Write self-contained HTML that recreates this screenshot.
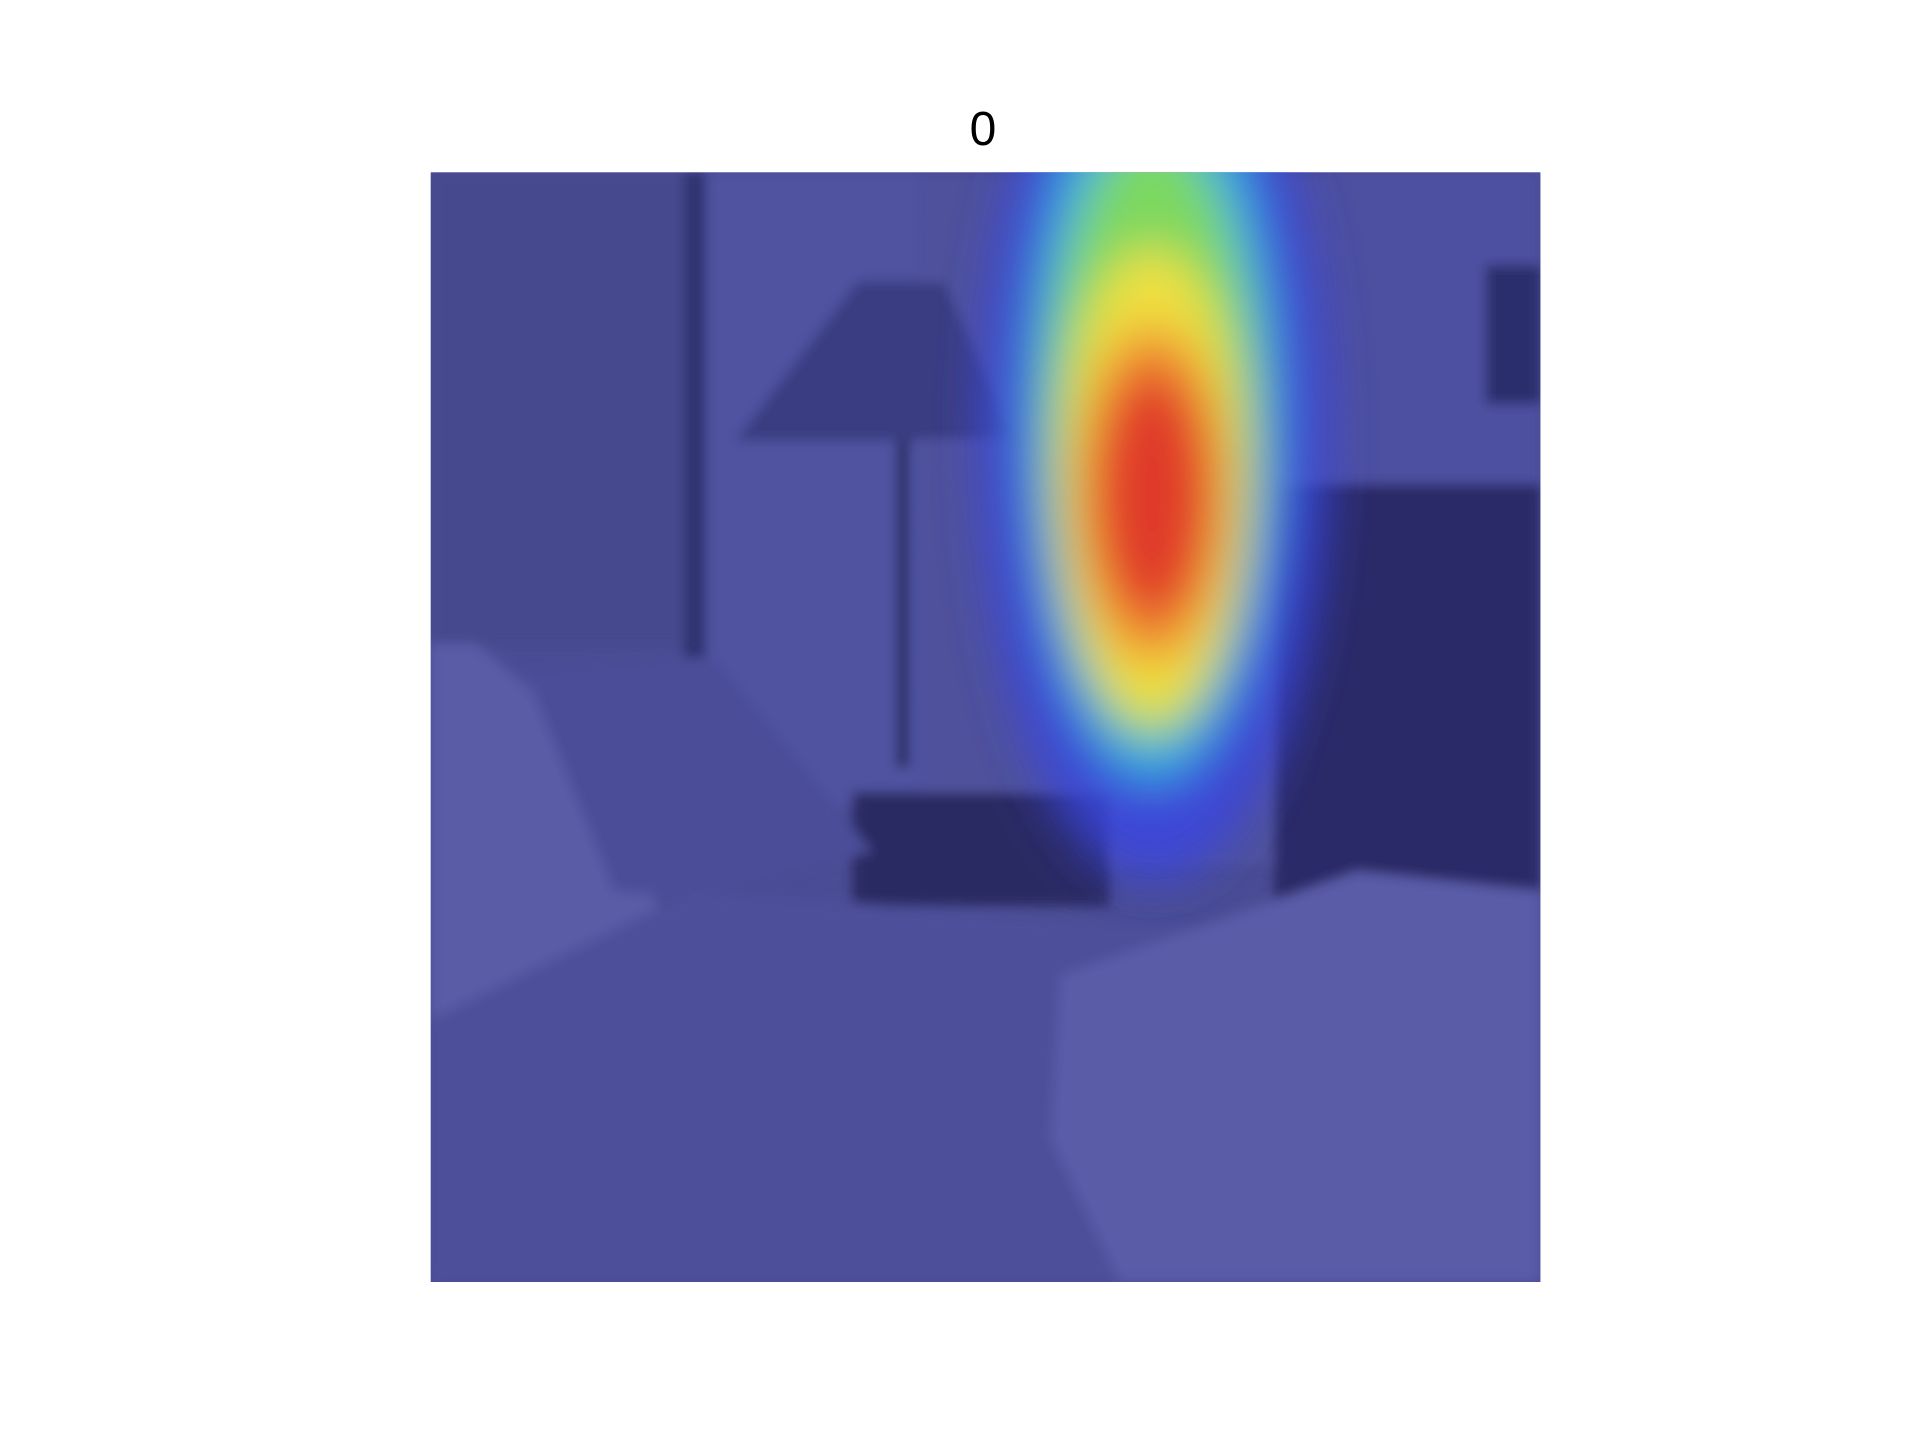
<!DOCTYPE html>
<html>
<head>
<meta charset="utf-8">
<style>
  html,body{margin:0;padding:0;background:#fff;width:1920px;height:1440px;overflow:hidden;}
  #title{position:absolute;left:0;width:1966px;top:102px;text-align:center;font-family:"Liberation Sans","DejaVu Sans",sans-serif;font-size:48px;color:#000;}
  svg{position:absolute;left:0;top:0;}
</style>
</head>
<body>
<div id="title">0</div>
<svg width="1920" height="1440">
  <defs>
    <clipPath id="clip"><rect x="434" y="174" width="1121" height="1121"/></clipPath>
    <filter id="blur" x="-50%" y="-50%" width="200%" height="200%"><feGaussianBlur stdDeviation="24"/></filter>
    <filter id="soft" x="-20%" y="-20%" width="140%" height="140%"><feGaussianBlur stdDeviation="6"/></filter>
    <pattern id="blinds" width="10" height="12" patternUnits="userSpaceOnUse">
      <rect width="10" height="12" fill="#5a5ca8"/>
      <rect y="7" width="10" height="5" fill="#3e4088"/>
    </pattern>
  </defs>
  <g transform="translate(1,0) scale(0.990)">
  <g clip-path="url(#clip)">
    <rect x="434" y="174" width="1121" height="1121" fill="#4a4c94"/>
    <g filter="url(#soft)">
      <rect x="434" y="174" width="260" height="480" fill="#46488f"/>
      <rect x="690" y="174" width="22" height="490" fill="#2e3070"/>
      <rect x="712" y="174" width="216" height="640" fill="#5052a0"/>
      <rect x="928" y="174" width="410" height="700" fill="url(#blinds)"/>
      <rect x="1338" y="174" width="217" height="320" fill="#4e50a0"/>
      <rect x="1500" y="268" width="55" height="140" fill="#2c2e6c"/>
      <rect x="1286" y="489" width="269" height="450" fill="#2c2c68"/>
      <polygon points="866,284 952,284 1026,445 742,445" fill="#3a3c82"/>
      <rect x="905" y="445" width="12" height="330" fill="#2a2a62"/>
      <rect x="860" y="800" width="260" height="115" fill="#2a2a64"/>
      <polygon points="434,650 480,650 600,750 680,960 560,990 434,1030" fill="#5a5ca6"/>
      <polygon points="530,680 720,665 880,860 700,905 620,900" fill="#4c4e98"/>
      <polygon points="434,1030 700,900 1100,930 1555,960 1555,1295 434,1295" fill="#4e509a"/>
      <polygon points="1070,985 1370,880 1555,900 1555,1295 1130,1295 1060,1150" fill="#5a5ca8"/>
    </g>
    <g filter="url(#blur)">
      <ellipse cx="1165" cy="440" rx="175" ry="450" fill="#3a44e0" opacity="0.85"/>
      <ellipse cx="1163" cy="420" rx="125" ry="370" fill="#2fb8e8" opacity="0.9"/>
      <ellipse cx="1163" cy="440" rx="108" ry="310" fill="#7cd860"/>
      <ellipse cx="1163" cy="490" rx="92" ry="240" fill="#f0e040"/>
      <ellipse cx="1163" cy="500" rx="76" ry="170" fill="#f08a30"/>
      <ellipse cx="1163" cy="500" rx="58" ry="125" fill="#e03a2a"/>
    </g>
  </g>
  </g>
</svg>
</body>
</html>
